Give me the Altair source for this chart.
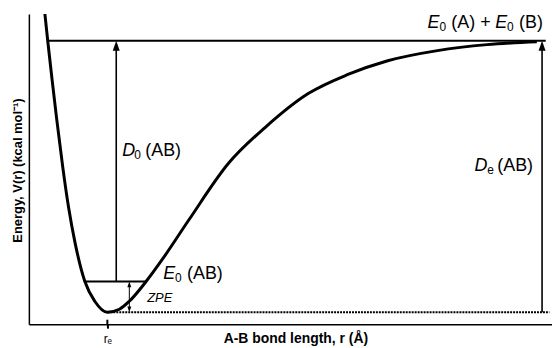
import altair as alt
import pandas as pd

# ---- data (arbitrary units) ----
# Potential energy curve V(r)
r_curve = [0.30, 0.36, 0.44, 0.53, 0.645, 0.76, 0.88, 1.07, 1.26, 1.50,
           1.73, 1.92, 2.24, 2.55, 3.06, 3.82, 4.52, 5.34, 6.10, 6.86, 7.81, 8.76, 9.71]
v_curve = [101, 91, 78.5, 65, 49, 35, 23.5, 10.3, 3.7, 0,
           1.0, 3.7, 10.3, 17.7, 31, 50, 62, 73.3, 79.7, 84.3, 87.7, 89.7, 90.7]

r_e = 1.5          # equilibrium bond length
V_min = 0.0        # bottom of the well
D_e = 91.0         # dissociation level  (E0(A) + E0(B))
E0 = 10.3          # zero-point level
E0_left, E0_right = 1.07, 2.24
diss_start, diss_end = 0.37, 9.88
dot_end = 9.95
r_D0 = 1.67        # D0 arrow
r_zpe = 1.92       # ZPE arrow
r_De = 9.81        # De arrow

X_DOMAIN = [0, 10]
Y_DOMAIN = [-4, 100]

FONT = "Liberation Sans"

x_axis = alt.Axis(values=[r_e], labelExpr="'r\u2091'", title="A-B bond length, r (\u00c5)",
                  grid=False, tickSize=4, tickWidth=2, tickColor="black",
                  labelFontSize=12, labelPadding=5, labelColor="black",
                  domainColor="black", domainWidth=1.5,
                  titleFontSize=14, titleFontWeight="bold", titleColor="black",
                  titleBaseline="alphabetic", titleY=18, titleX=268)
y_axis = alt.Axis(ticks=False, labels=False, grid=False,
                  title="Energy, V(r) (kcal mol\u207b\u00b9)",
                  domainColor="black", domainWidth=1.5,
                  titleFontSize=13, titleFontWeight="bold", titleColor="black",
                  titleAngle=270, titleBaseline="alphabetic", titleX=-7, titleY=157)


def X(field):
    return alt.X(f"{field}:Q", scale=alt.Scale(domain=X_DOMAIN, nice=False, zero=False), axis=x_axis)


def Y(field):
    return alt.Y(f"{field}:Q", scale=alt.Scale(domain=Y_DOMAIN, nice=False, zero=False), axis=y_axis)


curve = alt.Chart(pd.DataFrame({"r": r_curve, "V": v_curve})).mark_line(
    color="black", strokeWidth=3, interpolate="monotone", clip=True
).encode(x=X("r"), y=Y("V"))

# horizontal lines
hlines = pd.DataFrame({
    "r": [diss_start, E0_left],
    "r2": [diss_end, E0_right],
    "V": [D_e, E0],
})
hrules = alt.Chart(hlines).mark_rule(color="black", strokeWidth=2).encode(
    x=X("r"), x2="r2", y=Y("V"))

dotted = alt.Chart(pd.DataFrame({"r": [r_e], "r2": [dot_end], "V": [V_min]})).mark_rule(
    color="black", strokeWidth=2, strokeDash=[2, 1]
).encode(x=X("r"), x2="r2", y=Y("V"))

# vertical arrow shafts
vlines = pd.DataFrame({
    "r": [r_D0, r_De],
    "V": [E0, V_min],
    "V2": [D_e - 2, D_e - 2],
})
vrules = alt.Chart(vlines).mark_rule(color="black", strokeWidth=1.6).encode(
    x=X("r"), y=Y("V"), y2="V2")

zpe_shaft = alt.Chart(pd.DataFrame({"r": [r_zpe], "V": [V_min + 1], "V2": [E0 - 1]})).mark_rule(
    color="black", strokeWidth=1).encode(x=X("r"), y=Y("V"), y2="V2")

# tick crossing the axis at r_e (inner part)
inner_tick = alt.Chart(pd.DataFrame({"r": [r_e], "V": [-4], "V2": [-2.5]})).mark_rule(
    color="black", strokeWidth=2).encode(x=X("r"), y=Y("V"), y2="V2")

UP = "M0,0L-0.42,1.2L0.42,1.2Z"
DOWN = "M0,0L-0.42,-1.2L0.42,-1.2Z"

big_heads = alt.Chart(pd.DataFrame({"r": [r_D0, r_De], "V": [D_e, D_e]})).mark_point(
    shape=UP, size=280, filled=True, color="black", opacity=1, strokeWidth=0
).encode(x=X("r"), y=Y("V"))

zpe_up = alt.Chart(pd.DataFrame({"r": [r_zpe], "V": [E0]})).mark_point(
    shape=UP, size=90, filled=True, color="black", opacity=1, strokeWidth=0
).encode(x=X("r"), y=Y("V"))
zpe_down = alt.Chart(pd.DataFrame({"r": [r_zpe], "V": [V_min]})).mark_point(
    shape=DOWN, size=90, filled=True, color="black", opacity=1, strokeWidth=0
).encode(x=X("r"), y=Y("V"))


def label(parts, r0, v0):
    layers = []
    for txt, dx, size, style, dy in parts:
        layers.append(
            alt.Chart(pd.DataFrame({"r": [r0], "V": [v0], "t": [txt]})).mark_text(
                align="left", baseline="alphabetic", dx=dx, dy=dy,
                fontSize=size, fontStyle=style, color="black", font=FONT
            ).encode(x=X("r"), y=Y("V"), text="t:N")
        )
    return layers


labels = []
labels += label([("D", 0, 18, "italic", 0), ("0", 12, 12, "normal", 3), ("(AB)", 23, 18, "normal", 0)],
                1.787, 52.3)
labels += label([("E", 0, 18, "italic", 0), ("0", 12, 12, "normal", 3), ("(AB)", 24, 18, "normal", 0)],
                2.567, 11.0)
labels += label([("ZPE", 0, 13, "italic", 0)], 2.262, 3.3)
labels += label([("E", 0, 18, "italic", 0), ("0", 12, 12, "normal", 3), ("(A)", 24, 18, "normal", 0),
                 ("+", 53, 18, "normal", 0),
                 ("E", 68, 18, "italic", 0), ("0", 80, 12, "normal", 3), ("(B)", 92, 18, "normal", 0)],
                7.62, 95.3)
labels += label([("D", 0, 18, "italic", 0), ("e", 13, 12, "normal", 3), ("(AB)", 23, 18, "normal", 0)],
                8.517, 47.3)

chart = alt.layer(
    hrules, dotted, vrules, zpe_shaft, inner_tick, big_heads, zpe_up, zpe_down, curve, *labels
).properties(
    width=526, height=312,
    autosize=alt.AutoSizeParams(type="none"),
    padding={"left": 21, "top": 5, "right": 0, "bottom": 22},
    background="white",
).configure(font=FONT).configure_view(stroke=None)

chart.save("out.html", embed_options={"renderer": "svg", "actions": False})
